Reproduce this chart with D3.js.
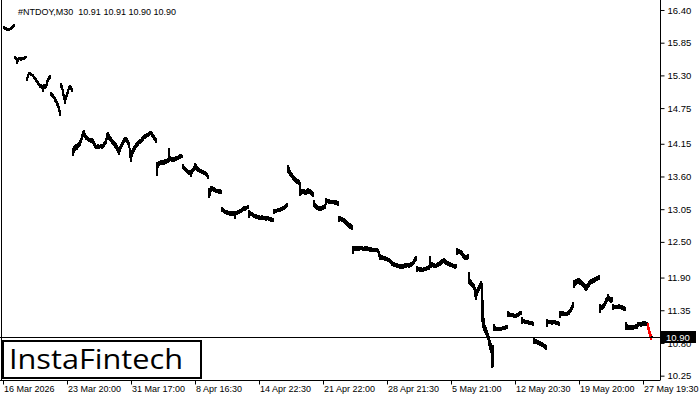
<!DOCTYPE html>
<html><head><meta charset="utf-8">
<script src="https://cdn.jsdelivr.net/npm/d3@7"></script>
<style>body{margin:0;background:#fff}svg{display:block}</style>
</head><body>
<script>
// ---- DATA (NTDOY, M30) : per trading-day groups of bar highs / lows ----
const barHighs = [
[16.13,16.11,16.11,16.10,16.08,16.10,16.10,16.11,16.13,16.15,16.16],
[15.63,15.61,15.59,15.59,15.61,15.61,15.59,15.61,15.59,15.61,15.63,15.63],
[15.27,15.32,15.36,15.36,15.34,15.32,15.32,15.29,15.27,15.26,15.22,15.21],
[15.17,15.16,15.16,15.14,15.12,15.16,15.14,15.16,15.22,15.26,15.29,15.31],
[15.02,15.00,14.99,14.95,14.94,14.90,14.87,14.84,14.79,14.72],
[15.17,15.14,15.07,14.99,14.92,14.97,15.02,15.07,15.12,15.14,15.12,15.09],
[14.08,14.11,14.13,14.15,14.13,14.16,14.18,14.21,14.25,14.31,14.36,14.38,14.33,14.30],
[14.28,14.26,14.25,14.25,14.23,14.25,14.23,14.20,14.16,14.13,14.13,14.15,14.13],
[14.13,14.15,14.13,14.15,14.18,14.20,14.25,14.33,14.35,14.31,14.28,14.26,14.23],
[14.21,14.20,14.18,14.16,14.13,14.10,14.06,14.11,14.15,14.18,14.21,14.25,14.26],
[14.26,14.25,14.21,14.18,14.08,14.01,14.05,14.08,14.11,14.13,14.16,14.18,14.20],
[14.21,14.23,14.23,14.26,14.28,14.30,14.31,14.31,14.33,14.33,14.35,14.36,14.36,14.35,14.31,14.30,14.26,14.25],
[13.84,13.84,13.86,13.86,13.88,13.86,13.88,13.88,13.89,13.88,13.89,13.91,14.08],
[13.94,13.93,13.93,13.93,13.91,13.93,13.94,13.93,13.94,13.96,13.98,13.98,13.96],
[13.81,13.78,13.76,13.74,13.73,13.71,13.71,13.69,13.71,13.73,13.74,13.78,13.83],
[13.81,13.78,13.76,13.74,13.73,13.73,13.71,13.71,13.69,13.69,13.68,13.66,13.63],
[13.41,13.39,13.44,13.44,13.42,13.42,13.41,13.39,13.39,13.39,13.37,13.39,13.37],
[13.09,13.07,13.05,13.04,13.04,13.04,13.02,13.02,13.02,13.00,13.02,13.00,13.02],
[13.00,13.02,13.02,13.04,13.04,13.05,13.05,13.07,13.09,13.10,13.09,13.10,13.10,13.12],
[13.04,13.02,13.00,13.00,12.99,12.97,12.97,12.97,12.95,12.95,12.95,12.94,12.94],
[12.95,12.94,12.94,12.94,12.94,12.94,12.94,12.92,12.92,12.92,12.90,12.90],
[13.05,13.05,13.05,13.05,13.07,13.07,13.07,13.09,13.09,13.10,13.10,13.12,13.14,13.15],
[13.79,13.76,13.71,13.68,13.66,13.63,13.61,13.59,13.58,13.56,13.56,13.54],
[13.51,13.39,13.39,13.39,13.39,13.37,13.37,13.39,13.41,13.39,13.39,13.37,13.36,13.34],
[13.20,13.15,13.14,13.12,13.10,13.10,13.10,13.10,13.10,13.12,13.12,13.14],
[13.24,13.22,13.22,13.22,13.20,13.20,13.20,13.20,13.20,13.20,13.20,13.19,13.19],
[12.94,12.94,12.92,12.92,12.90,12.90,12.88,12.87,12.85,12.83,12.82,12.82,12.80,12.78],
[12.43,12.43,12.43,12.41,12.43,12.43,12.41,12.43,12.43,12.43,12.41,12.41,12.43],
[12.41,12.43,12.41,12.41,12.41,12.41,12.40,12.40,12.40,12.40,12.40,12.40,12.38,12.35],
[12.30,12.28,12.28,12.26,12.26,12.26,12.25,12.25,12.23,12.23,12.21,12.19],
[12.18,12.16,12.16,12.14,12.14,12.14,12.13,12.13,12.11,12.13,12.13,12.13,12.13],
[12.14,12.13,12.14,12.14,12.14,12.14,12.16,12.16,12.18,12.21,12.25,12.26],
[12.09,12.08,12.08,12.08,12.08,12.06,12.06,12.08,12.08,12.08,12.09,12.09,12.11],
[12.26,12.16,12.16,12.14,12.14,12.13,12.13,12.14,12.16,12.16,12.18,12.19,12.21],
[12.21,12.23,12.21,12.19,12.18,12.18,12.16,12.16,12.14,12.14,12.13,12.13,12.13,12.13],
[12.40,12.38,12.38,12.36,12.36,12.35,12.31,12.30,12.28,12.28,12.28,12.30],
[11.99,11.88,11.86,11.83,11.81,11.79,11.74,11.69,11.71,11.74,11.77,11.81,11.84],
[11.81,11.52,11.22,11.10,11.07,11.02,10.97,10.92,10.85,10.80,10.77,10.77],
[11.12,11.08,11.07,11.07,11.07,11.07,11.07,11.07,11.07,11.08,11.08,11.08,11.10,11.10],
[11.34,11.32,11.30,11.30,11.30,11.30,11.29,11.29,11.29,11.30,11.30,11.32,11.34,11.34],
[11.24,11.20,11.20,11.19,11.19,11.19,11.19,11.17,11.17,11.17,11.17,11.15],
[10.90,10.87,10.87,10.85,10.85,10.83,10.83,10.82,10.82,10.80,10.78,10.78,10.77],
[11.20,11.19,11.19,11.19,11.19,11.17,11.19,11.19,11.19,11.17,11.17,11.17,11.15],
[11.34,11.34,11.34,11.34,11.32,11.32,11.32,11.32,11.34,11.35,11.37,11.40,11.44,11.49],
[11.86,11.86,11.88,11.88,11.89,11.89,11.88,11.86,11.84,11.83,11.81,11.79,11.77],
[11.79,11.81,11.84,11.86,11.88,11.88,11.89,11.89,11.91,11.91,11.93,11.93,11.94],
[11.45,11.44,11.44,11.45,11.47,11.51,11.56,11.57,11.62,11.59,11.57,11.56,11.57],
[11.45,11.44,11.44,11.44,11.44,11.44,11.45,11.44,11.44,11.44,11.42,11.42,11.40],
[11.15,11.12,11.10,11.10,11.10,11.08,11.10,11.10,11.10,11.10,11.12,11.12],
[11.15,11.15,11.15,11.15,11.15,11.17,11.17,11.17,11.15,11.15,11.14,11.07,11.00,10.95,10.91]
];
const barLows = [
[16.08,16.06,16.06,16.05,16.05,16.05,16.06,16.06,16.08,16.10,16.11],
[15.58,15.56,15.49,15.53,15.56,15.56,15.54,15.56,15.56,15.56,15.58,15.59],
[15.21,15.26,15.31,15.31,15.29,15.29,15.27,15.24,15.22,15.19,15.17,15.14],
[15.12,15.09,15.10,15.07,15.02,15.09,15.07,15.09,15.12,15.19,15.22,15.24],
[14.95,14.94,14.92,14.90,14.85,14.84,14.79,14.75,14.68,14.62],
[15.09,15.05,14.95,14.89,14.82,14.89,14.94,14.99,15.05,15.07,15.05,15.02],
[13.94,13.99,14.03,14.06,14.05,14.08,14.10,14.11,14.16,14.21,14.26,14.30,14.25,14.21],
[14.21,14.20,14.18,14.18,14.16,14.18,14.15,14.11,14.08,14.06,14.06,14.08,14.06],
[14.08,14.08,14.06,14.08,14.10,14.13,14.15,14.21,14.26,14.21,14.20,14.18,14.15],
[14.13,14.11,14.08,14.06,14.03,13.99,13.96,14.01,14.06,14.10,14.13,14.16,14.18],
[14.20,14.16,14.13,14.08,13.91,13.84,13.93,13.98,14.01,14.05,14.08,14.10,14.11],
[14.15,14.15,14.16,14.18,14.20,14.23,14.23,14.25,14.26,14.26,14.28,14.30,14.30,14.26,14.25,14.21,14.20,14.16],
[13.61,13.74,13.78,13.79,13.79,13.79,13.81,13.79,13.83,13.81,13.83,13.83,13.84],
[13.86,13.86,13.84,13.86,13.84,13.86,13.86,13.88,13.88,13.89,13.89,13.91,13.91],
[13.73,13.71,13.69,13.68,13.66,13.64,13.63,13.63,13.59,13.64,13.68,13.69,13.73],
[13.71,13.69,13.68,13.68,13.66,13.66,13.64,13.64,13.63,13.63,13.61,13.59,13.56],
[13.24,13.27,13.34,13.36,13.36,13.34,13.34,13.32,13.32,13.32,13.31,13.32,13.31],
[13.00,13.00,12.99,12.97,12.97,12.95,12.95,12.95,12.94,12.94,12.95,12.94,12.94],
[12.88,12.95,12.95,12.97,12.97,12.99,12.99,13.00,13.02,13.04,13.02,13.04,13.05,13.05],
[12.90,12.95,12.94,12.94,12.92,12.90,12.90,12.88,12.88,12.88,12.87,12.87,12.87],
[12.88,12.87,12.87,12.87,12.85,12.87,12.87,12.85,12.85,12.83,12.83,12.83],
[12.97,12.99,12.99,13.00,13.00,13.00,13.00,13.02,13.02,13.04,13.04,13.05,13.07,13.09],
[13.66,13.64,13.61,13.59,13.58,13.54,13.52,13.51,13.49,13.47,13.47,13.46],
[13.27,13.29,13.31,13.31,13.31,13.29,13.29,13.31,13.32,13.31,13.31,13.29,13.27,13.25],
[13.09,13.07,13.05,13.04,13.04,13.02,13.02,13.02,13.04,13.04,13.05,13.05],
[13.12,13.15,13.15,13.14,13.14,13.14,13.14,13.14,13.14,13.12,13.12,13.12,13.10],
[12.83,12.85,12.85,12.83,12.83,12.82,12.80,12.78,12.77,12.75,12.73,12.72,12.72,12.70],
[12.30,12.35,12.35,12.35,12.36,12.35,12.35,12.36,12.36,12.36,12.35,12.35,12.36],
[12.35,12.36,12.35,12.35,12.33,12.35,12.33,12.33,12.33,12.33,12.33,12.33,12.31,12.25],
[12.19,12.21,12.19,12.19,12.19,12.18,12.18,12.18,12.16,12.16,12.14,12.13],
[12.09,12.09,12.08,12.08,12.08,12.06,12.06,12.06,12.04,12.04,12.06,12.04,12.06],
[12.06,12.06,12.08,12.08,12.06,12.08,12.08,12.09,12.11,12.13,12.16,12.18],
[11.99,12.01,12.01,11.99,12.01,11.99,11.99,12.01,12.01,12.01,12.03,12.03,12.03],
[12.06,12.06,12.08,12.08,12.06,12.06,12.06,12.08,12.08,12.09,12.09,12.11,12.13],
[12.14,12.14,12.13,12.11,12.11,12.09,12.09,12.08,12.08,12.08,12.06,12.06,12.04,12.06],
[12.28,12.30,12.31,12.30,12.28,12.26,12.23,12.21,12.19,12.19,12.19,12.21],
[11.79,11.77,11.76,11.74,11.72,11.69,11.57,11.52,11.59,11.64,11.67,11.71,11.74],
[11.15,11.05,11.00,10.97,10.93,10.88,10.85,10.75,10.68,10.63,10.38,10.40],
[11.00,11.02,11.00,11.00,11.00,11.00,11.00,11.00,11.02,11.02,11.02,11.02,11.03,11.03],
[11.24,11.25,11.24,11.24,11.24,11.24,11.22,11.22,11.22,11.24,11.24,11.25,11.27,11.27],
[11.12,11.14,11.14,11.12,11.12,11.12,11.12,11.10,11.10,11.10,11.10,11.08],
[10.78,10.80,10.78,10.78,10.77,10.77,10.75,10.75,10.73,10.73,10.72,10.70,10.68],
[11.07,11.12,11.12,11.12,11.12,11.10,11.12,11.12,11.12,11.10,11.10,11.10,11.08],
[11.22,11.25,11.25,11.27,11.25,11.25,11.25,11.25,11.27,11.27,11.30,11.32,11.35,11.39],
[11.72,11.76,11.77,11.79,11.81,11.79,11.77,11.77,11.76,11.74,11.72,11.69,11.67],
[11.69,11.72,11.74,11.77,11.79,11.79,11.81,11.81,11.83,11.84,11.84,11.86,11.86],
[11.30,11.35,11.35,11.37,11.39,11.42,11.45,11.49,11.52,11.51,11.49,11.47,11.49],
[11.35,11.37,11.37,11.37,11.37,11.37,11.37,11.37,11.37,11.35,11.35,11.34,11.34],
[11.02,11.03,11.02,11.02,11.02,11.02,11.02,11.02,11.03,11.03,11.03,11.03],
[11.07,11.08,11.08,11.07,11.08,11.08,11.10,11.08,11.08,11.08,11.02,10.95,10.88,10.85,10.90]
];
const patternBars = [644, 645, 646, 647];   // highlighted (red) bars
const lastPrice = 10.90;
const titleText = "#NTDOY,M30  10.91 10.91 10.90 10.90";
const yTickValues = [16.40, 15.85, 15.30, 14.75, 14.15, 13.60, 13.05, 12.50, 11.90, 11.35, 10.80, 10.25];
const xTickLabels = ["16 Mar 2026","23 Mar 20:00","31 Mar 17:00","8 Apr 16:30","14 Apr 22:30","21 Apr 22:00","28 Apr 21:30","5 May 21:00","12 May 20:30","19 May 20:00","27 May 19:30"];
const xTickBars = [0, 64, 128, 192, 256, 320, 384, 448, 512, 576, 640];

// ---- CHART ----
const highs = barHighs.flat(), lows = barLows.flat();
const bars = highs.map((h, i) => ({i, h, l: lows[i]}));
const W = 700, H = 400, plotR = 660, plotB = 380;
const svg = d3.select("body").append("svg").attr("width", W).attr("height", H);
const x = d3.scaleLinear().domain([0, bars.length - 1]).range([3, 651]);
const y = d3.scaleLinear().domain([10.177, 16.568]).range([plotB, 0]);
const font = "'Liberation Sans', Arial, sans-serif";

svg.append("rect").attr("width", W).attr("height", H).attr("fill", "#fff");

// bars
const redSet = new Set(patternBars);
svg.append("g").attr("shape-rendering", "crispEdges").selectAll("rect").data(bars).join("rect")
  .attr("x", d => Math.round(x(d.i)))
  .attr("y", d => y(d.h))
  .attr("width", 2)
  .attr("height", d => Math.max(1.2, y(d.l) - y(d.h)))
  .attr("fill", d => redSet.has(d.i) ? "#ff0000" : "#000");

// last price line
svg.append("line").attr("x1", 0).attr("x2", plotR).attr("y1", Math.round(y(lastPrice)) + 0.5).attr("y2", Math.round(y(lastPrice)) + 0.5)
  .attr("stroke", "#000").attr("stroke-width", 1);

// frame
svg.append("line").attr("x1", 1.5).attr("x2", 1.5).attr("y1", 0).attr("y2", plotB).attr("stroke", "#000");
svg.append("line").attr("x1", plotR + 0.5).attr("x2", plotR + 0.5).attr("y1", 0).attr("y2", plotB + 0.5).attr("stroke", "#000");
svg.append("line").attr("x1", 0).attr("x2", plotR).attr("y1", plotB + 0.5).attr("y2", plotB + 0.5).attr("stroke", "#000");

// right axis
const yAxis = d3.axisRight(y).tickValues(yTickValues).tickSize(4).tickPadding(3).tickFormat(d => d.toFixed(2));
const gy = svg.append("g").attr("transform", `translate(${plotR + 0.5},0)`).call(yAxis);
gy.select(".domain").remove();
gy.selectAll("line").attr("stroke", "#000");
gy.selectAll("text").attr("font-family", font).attr("font-size", 9.5).attr("fill", "#000");

// bottom axis
const gx = svg.append("g").attr("transform", `translate(0,${plotB + 0.5})`);
gx.selectAll("line").data(xTickBars).join("line")
  .attr("x1", d => Math.round(x(d)) + 0.5).attr("x2", d => Math.round(x(d)) + 0.5)
  .attr("y1", 0).attr("y2", 4).attr("stroke", "#000");
gx.selectAll("text").data(xTickBars).join("text")
  .attr("x", d => Math.round(x(d)) + 1).attr("y", 11.5)
  .attr("font-family", font).attr("font-size", 9).attr("fill", "#000")
  .text((d, k) => xTickLabels[k]);

// last price label
const ly = Math.round(y(lastPrice));
svg.append("rect").attr("x", 661).attr("y", ly - 6).attr("width", 35).attr("height", 12).attr("fill", "#000");
svg.append("text").attr("x", 666).attr("y", ly + 4).attr("font-family", font).attr("font-size", 9.5)
  .attr("fill", "#fff").text(lastPrice.toFixed(2));

// title
svg.append("text").attr("x", 18).attr("y", 14.5).attr("font-family", font).attr("font-size", 9)
  .attr("fill", "#000").attr("xml:space", "preserve").style("white-space", "pre").text(titleText);

// logo
svg.append("rect").attr("x", 3).attr("y", 341).attr("width", 198).attr("height", 37)
  .attr("fill", "#fff").attr("stroke", "#000").attr("stroke-width", 2);
svg.append("text").attr("x", 9).attr("y", 369).attr("font-family", "'Open Sans', Roboto, sans-serif")
  .attr("font-size", 28).attr("fill", "#000").attr("textLength", 174).attr("lengthAdjust", "spacingAndGlyphs")
  .text("InstaFintech");
</script>
</body></html>
